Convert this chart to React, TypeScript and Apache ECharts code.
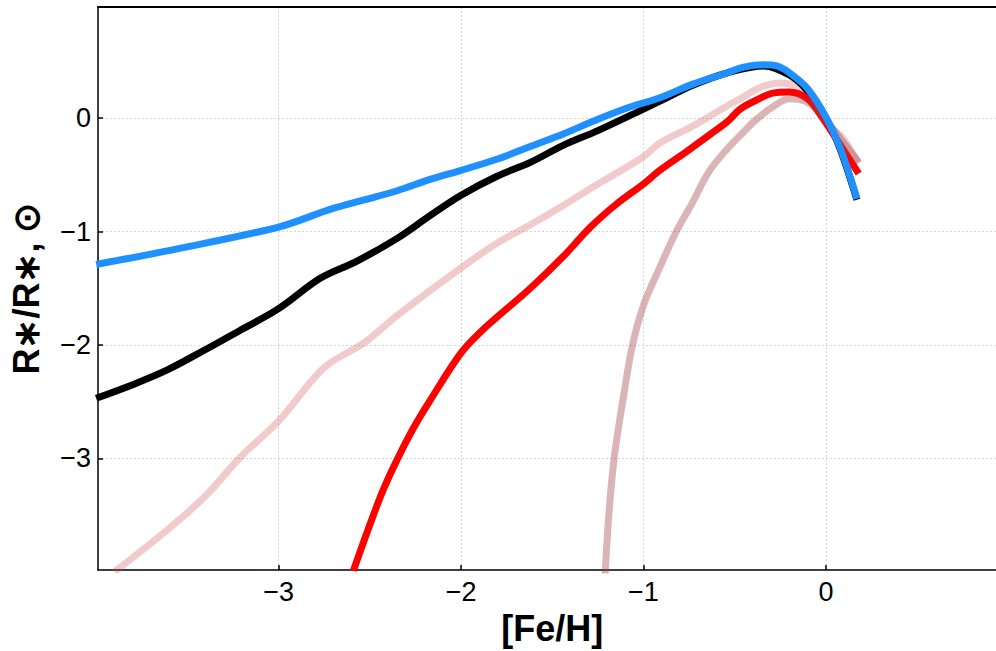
import React, { useEffect, useRef } from "react";
import * as echarts from "echarts";

// ---- data ----
const xTicks = [-3, -2, -1, 0];
const yTicks = [-3, -2, -1, 0];

const blueX = [-4.0, -3.61, -3.0, -2.71, -2.53, -2.35, -2.17, -2.0, -1.8, -1.62, -1.44, -1.25, -1.07, -0.91, -0.73, -0.54, -0.45, -0.34, -0.27, -0.2, -0.1, 0.0, 0.08, 0.17];
const blueY = [-1.29, -1.17, -0.96, -0.8, -0.72, -0.64, -0.54, -0.46, -0.36, -0.25, -0.14, -0.01, 0.1, 0.18, 0.3, 0.4, 0.45, 0.47, 0.46, 0.4, 0.26, 0.01, -0.27, -0.71];

const blackX = [-4.0, -3.8, -3.61, -3.4, -3.21, -3.0, -2.77, -2.57, -2.35, -2.17, -2.0, -1.8, -1.62, -1.44, -1.25, -1.0, -0.91, -0.73, -0.54, -0.34, -0.2, -0.1, 0.0, 0.08, 0.17];
const blackY = [-2.47, -2.35, -2.22, -2.04, -1.87, -1.68, -1.41, -1.26, -1.06, -0.86, -0.68, -0.51, -0.39, -0.24, -0.11, 0.08, 0.15, 0.29, 0.4, 0.46, 0.38, 0.24, 0.0, -0.28, -0.72];

const pinkX = [-3.9, -3.61, -3.4, -3.21, -3.0, -2.75, -2.53, -2.35, -2.0, -1.8, -1.62, -1.44, -1.29, -1.0, -0.91, -0.73, -0.54, -0.47, -0.36, -0.25, -0.14, -0.05, 0.02, 0.09, 0.18];
const pinkY = [-4.0, -3.63, -3.33, -2.99, -2.67, -2.2, -1.98, -1.74, -1.32, -1.1, -0.94, -0.77, -0.62, -0.34, -0.22, -0.07, 0.11, 0.17, 0.27, 0.31, 0.27, 0.12, -0.07, -0.17, -0.4];

const redX = [-2.59, -2.44, -2.35, -2.26, -2.17, -2.0, -1.89, -1.8, -1.62, -1.44, -1.29, -1.15, -1.0, -0.91, -0.76, -0.64, -0.54, -0.47, -0.38, -0.29, -0.2, -0.1, -0.03, 0.08, 0.18];
const redY = [-3.99, -3.33, -3.01, -2.73, -2.49, -2.07, -1.88, -1.75, -1.5, -1.22, -0.96, -0.76, -0.58, -0.46, -0.29, -0.15, -0.03, 0.08, 0.16, 0.22, 0.23, 0.17, 0.03, -0.24, -0.49];

const rosyX = [-1.21, -1.19, -1.16, -1.11, -1.06, -1.0, -0.92, -0.82, -0.74, -0.64, -0.54, -0.45, -0.38, -0.29, -0.2, -0.1, -0.02, 0.08, 0.18];
const rosyY = [-4.02, -3.5, -2.99, -2.46, -2.0, -1.65, -1.35, -1.0, -0.77, -0.47, -0.27, -0.12, -0.01, 0.1, 0.17, 0.14, 0.02, -0.18, -0.39];

const zip = (xs: number[], ys: number[]) => xs.map((x, i) => [x, ys[i]]);
const minus = (v: number | string) => String(v).replace("-", "\u2212");

export default function App() {
  const ref = useRef<HTMLDivElement>(null);
  useEffect(() => {
    if (!ref.current) return;
    const chart = echarts.init(ref.current, undefined, { renderer: "svg" });
    const font = "'Liberation Sans', Arial, sans-serif";
    const lineSeries = (name: string, xs: number[], ys: number[], color: string, width: number, z: number) => ({
      name,
      type: "line",
      data: zip(xs, ys),
      showSymbol: false,
      smooth: 0.35,
      lineStyle: { color, width, cap: "butt", join: "round" },
      z,
      clip: true,
    });
    chart.setOption({
      animation: false,
      backgroundColor: "#ffffff",
      grid: { left: 97, top: 7, width: 909.5, height: 566.3, containLabel: false },
      xAxis: [
        {
          type: "value",
          min: -3.99,
          max: 0.99,
          name: "[Fe/H]",
          nameLocation: "middle",
          nameGap: 36,
          nameTextStyle: { fontFamily: font, fontWeight: "bold", fontSize: 36, color: "#000" },
          axisLine: { show: true, onZero: false, lineStyle: { color: "#000", width: 1.5 } },
          axisTick: { show: true, inside: true, length: 5, customValues: xTicks, lineStyle: { color: "#000", width: 1.5 } },
          axisLabel: { customValues: xTicks, formatter: minus, fontFamily: font, fontSize: 27, color: "#000", margin: 8 },
          splitLine: { show: true, lineStyle: { color: "#cccccc", width: 0.8, type: [2, 2] } },
        },
        {
          type: "value",
          position: "top",
          min: -3.99,
          max: 0.99,
          axisLine: { show: true, onZero: false, lineStyle: { color: "#000", width: 2 } },
          axisTick: { show: false },
          axisLabel: { show: false },
          splitLine: { show: false },
        },
      ],
      yAxis: {
        type: "value",
        min: -3.985,
        max: 0.98,
        name: "R\u2217/R\u2217, \u2299",
        nameLocation: "middle",
        nameGap: 54,
        nameTextStyle: { fontFamily: font, fontWeight: "bold", fontSize: 36, color: "#000" },
        axisLine: { show: true, onZero: false, lineStyle: { color: "#000", width: 1.5 } },
        axisTick: { show: true, inside: true, length: 5, customValues: yTicks, lineStyle: { color: "#000", width: 1.5 } },
        axisLabel: { customValues: yTicks, formatter: minus, fontFamily: font, fontSize: 27, color: "#000", margin: 7 },
        splitLine: { show: true, lineStyle: { color: "#cccccc", width: 0.8, type: [2, 2] } },
      },
      series: [
        lineSeries("pink", pinkX, pinkY, "rgba(205,70,70,0.28)", 7, 2),
        lineSeries("black", blackX, blackY, "#000000", 7, 3),
        lineSeries("red", redX, redY, "#ff0000", 7, 4),
        lineSeries("rosy", rosyX, rosyY, "rgba(160,60,60,0.38)", 7, 5),
        lineSeries("blue", blueX, blueY, "#1e90ff", 7, 6),
      ],
    });
    return () => chart.dispose();
  }, []);
  return (
    <div style={{ position: "fixed", left: 0, top: 0, width: 996, height: 651, overflow: "hidden", background: "#fff" }}>
      <div ref={ref} style={{ width: 1020, height: 651 }} />
    </div>
  );
}
